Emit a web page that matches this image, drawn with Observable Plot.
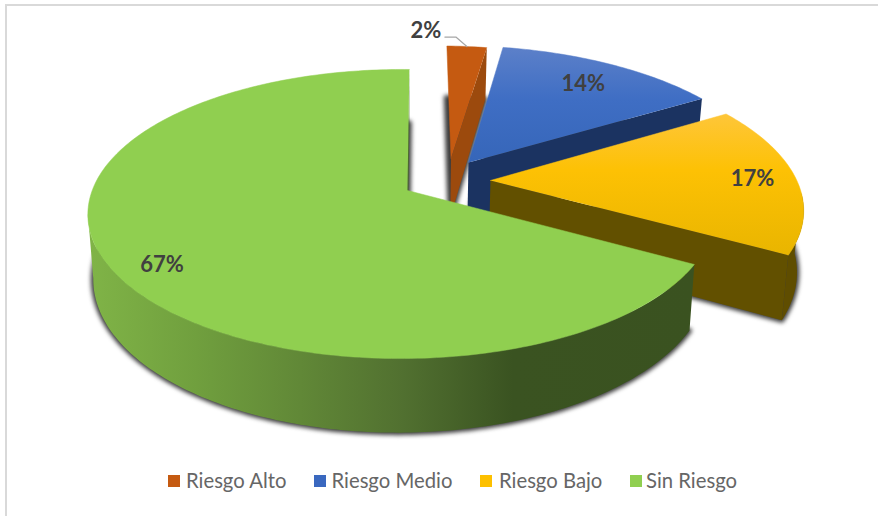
<!DOCTYPE html>
<html>
<head>
<meta charset="utf-8">
<script src="https://cdn.jsdelivr.net/npm/d3@7"></script>
<script src="https://cdn.jsdelivr.net/npm/@observablehq/plot@0.6"></script>
<style>
  html, body { margin: 0; padding: 0; background: #fff; }
  #frame { position: relative; width: 878px; height: 516px; overflow: hidden; }
  #frame svg { position: absolute; left: 0; top: 0; }
  #border { position: absolute; left: 5px; top: 4px; width: 900px; height: 600px; border: 2.5px solid #d9d9d9; box-sizing: border-box; }
  .lg { position: absolute; top: 466px; height: 28px; font: 20.3px/28px Lato, sans-serif; color: #666; white-space: nowrap; }
</style>
</head>
<body>
<div id="frame"><div id="border"></div></div>
<script>
// ---- data ----
const categories = ["Riesgo Alto", "Riesgo Medio", "Riesgo Bajo", "Sin Riesgo"];
const shares = [2.49, 13.7, 16.9, 66.91];
const startAngle = 0.4;

// ---- pulled-out slices (position on the pie plane) ----
const pullU = [0.1465, 0.2047, 0.273, 0];
const pullV = [0.2367, 0.2065, 0.0723, 0];
const sliceRadius = [1.0, 1.035, 1.035, 1.0];
const labelRadius = [0, 0.81, 0.885, 0.865];
const labelTurn = [0, 0, 0, -3.5];

// ---- colours ----
const topFill = ["#c55a11", "url(#topBlue)", "url(#topYellow)", "#90cf50"];
const cutFill = ["#9c4a0d", "#1b3361", "#625000", "#4c6e2a"];
const wallFill = ["#9c4a0d", "#1b3361", "#5f4d00", "url(#wallGreen)"];
const swatchFill = ["#c55a11", "#3a68bf", "#fdc000", "#90cf50"];
const legendTextX = [186, 331.5, 499, 646];
const legendSwatchX = [168, 314, 480, 630];

const gradients = [
  {id: "topBlue", x2: 0, y2: 1, stops: [[0, "#5c80c9"], [0.45, "#3f6ec4"], [1, "#3666b9"]]},
  {id: "topYellow", x2: 0, y2: 1, stops: [[0, "#fec639"], [0.4, "#fdc104"], [1, "#e9b500"]]},
  {id: "wallGreen", x2: 1, y2: 0, stops: [[0, "#80b447"], [0.18, "#709f3e"], [0.35, "#618837"], [0.52, "#517030"], [0.7, "#3a5321"], [1, "#3a5220"]]}
];

// ---- pie model: a tilted disc seen in perspective ----
const cx = 407, cy = 190, W = 309, H = 140.7, kv = 0.1626, ku = 0.02, D = 62, squeeze = 0.017;
function project(u, v, low = false) {
  const w = 1 + kv * v + ku * u;
  const x = cx + W * u / w, y = cy - H * v / w;
  return low ? {x: cx + (x - cx) * (1 - squeeze), y: y + D / w} : {x, y};
}
const rad = (a) => a * Math.PI / 180;
const rimPoint = (i, a, r = sliceRadius[i]) => [pullU[i] + r * Math.sin(rad(a)), pullV[i] + r * Math.cos(rad(a))];
const arc = (i, a0, a1, low, r) => {
  const n = Math.max(2, Math.ceil(Math.abs(a1 - a0)));
  return d3.range(n + 1).map((t) => project(...rimPoint(i, a0 + (a1 - a0) * t / n, r), low));
};

// slice angles built from the shares
let acc = startAngle;
const slices = shares.map((s, i) => {
  const a0 = acc, a1 = acc + s * 3.6;
  acc = a1;
  return {i, a0, a1, mid: (a0 + a1) / 2};
});

const poly = (pts, opts) => Plot.line(pts, {x: "x", y: "y", ...opts});
const marks = [];

marks.push(() => {
  const defs = d3.create("svg:defs");
  for (const g of gradients) {
    const lg = defs.append("linearGradient").attr("id", g.id).attr("x1", 0).attr("y1", 0).attr("x2", g.x2).attr("y2", g.y2);
    for (const [o, c] of g.stops) lg.append("stop").attr("offset", o).attr("stop-color", c);
  }
  return defs.node();
});

for (const s of slices) {
  const {i, a0, a1} = s;
  const apexTop = project(pullU[i], pullV[i]);
  const apexLow = project(pullU[i], pullV[i], true);
  // soft shadow under the slice
  marks.push(poly([apexLow, ...arc(i, a0, a1, true), apexLow], {fill: "#333", stroke: "#333", strokeWidth: 5, fillOpacity: 0.95, strokeOpacity: 0.9, imageFilter: "blur(2px)"}));
  // cut face at the clockwise end of the slice
  const endTop = project(...rimPoint(i, a1));
  const endLow = project(...rimPoint(i, a1), true);
  marks.push(poly([apexTop, endTop, endLow, apexLow], {fill: cutFill[i]}));
  // outer wall, up to the tangent points of the rim
  const w0 = Math.max(a0, 95), w1 = Math.min(a1, 261);
  if (w1 > w0) {
    marks.push(poly([...arc(i, w0, w1, false), ...arc(i, w1, w0, true)], {fill: wallFill[i]}));
  }
  // top face
  marks.push(poly([apexTop, ...arc(i, a0, a1, false)], {fill: topFill[i], stroke: topFill[i], strokeWidth: 0.5}));
}

// data labels
const labelData = slices.slice(1).map((s) => ({...project(...rimPoint(s.i, s.mid + labelTurn[s.i], labelRadius[s.i])), t: Math.round(shares[s.i]) + "%"}));
const rimMid = project(...rimPoint(0, slices[0].mid));
labelData.push({x: rimMid.x - 41, y: rimMid.y - 16, t: Math.round(shares[0]) + "%"});
marks.push(poly([
  {x: rimMid.x - 22, y: rimMid.y - 9.5},
  {x: rimMid.x - 11, y: rimMid.y - 9.5},
  rimMid
], {stroke: "#a6a6a6", strokeWidth: 1.2}));
marks.push(Plot.text(labelData, {x: "x", y: "y", text: "t", fontFamily: "Lato, sans-serif", fontWeight: 700, fontSize: 22, fill: "#404040"}));

const chart = Plot.plot({
  width: 878, height: 516,
  margin: 0,
  x: {domain: [0, 878], range: [0, 878], axis: null},
  y: {domain: [0, 516], range: [0, 516], axis: null},
  marks
});
chart.style.background = "transparent";
const frame = document.getElementById("frame");
frame.appendChild(chart);

// legend
categories.forEach((c, i) => {
  const sw = document.createElement("i");
  sw.style.cssText = `position:absolute;top:474.5px;height:12px;width:12px;left:${legendSwatchX[i]}px;background:${swatchFill[i]}`;
  frame.appendChild(sw);
  const t = document.createElement("div");
  t.className = "lg";
  t.style.left = legendTextX[i] + "px";
  t.textContent = c;
  frame.appendChild(t);
});
</script>
</body>
</html>
